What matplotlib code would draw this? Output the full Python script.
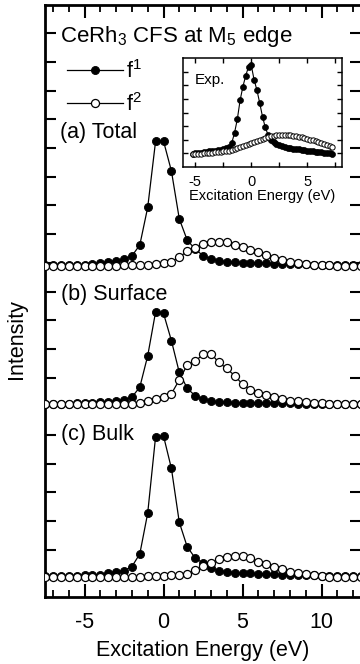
import numpy as np
import matplotlib.pyplot as plt

plt.rcParams['font.family'] = ['Liberation Sans', 'DejaVu Sans']
plt.rcParams['mathtext.fontset'] = 'custom'
plt.rcParams['mathtext.rm'] = 'Liberation Sans'
plt.rcParams['mathtext.it'] = 'Liberation Sans:italic'
plt.rcParams['mathtext.bf'] = 'Liberation Sans:bold'
plt.rcParams['axes.unicode_minus'] = False

# main panels: excitation energy grid (eV), 0.5 eV steps from -7.5 to 12.5
energy = np.arange(-7.5, 12.6, 0.5)

# intensities above each panel's baseline (arb. units)
total_f1 = [0.02, 0.02, 0.03, 0.03, 0.04, 0.05, 0.07, 0.10, 0.15, 0.18, 0.24,
            0.35, 0.73, 2.04, 4.35, 4.35, 3.31, 1.64, 0.90, 0.59, 0.36, 0.24,
            0.18, 0.15, 0.13, 0.12, 0.11, 0.10, 0.09, 0.08, 0.08, 0.07, 0.06,
            0.06, 0.05, 0.05, 0.05, 0.04, 0.04, 0.04, 0.04]
total_f2 = [0, 0, 0, 0, 0, 0, 0, 0, 0.01, 0.01, 0.02,
            0.02, 0.03, 0.05, 0.07, 0.10, 0.15, 0.31, 0.51, 0.61, 0.75, 0.82,
            0.82, 0.82, 0.73, 0.65, 0.56, 0.48, 0.38, 0.27, 0.21, 0.15, 0.09,
            0.06, 0.04, 0.03, 0.02, 0.01, 0.01, 0, 0]

surface_f1 = [0.01, 0.01, 0.02, 0.02, 0.03, 0.04, 0.05, 0.07, 0.09, 0.11, 0.16,
              0.25, 0.60, 1.69, 3.22, 3.17, 2.22, 1.11, 0.56, 0.30, 0.18, 0.12,
              0.08, 0.07, 0.06, 0.05, 0.05, 0.04, 0.04, 0.03, 0.03, 0.03, 0.02,
              0.02, 0.02, 0.02, 0.01, 0.01, 0.01, 0.01, 0.01]
surface_f2 = [0, 0, 0, 0, 0, 0, 0, 0, 0.01, 0.01, 0.02,
              0.02, 0.04, 0.10, 0.18, 0.26, 0.37, 0.85, 1.37, 1.50, 1.74, 1.77,
              1.46, 1.25, 1.00, 0.70, 0.51, 0.41, 0.33, 0.27, 0.19, 0.13, 0.10,
              0.07, 0.05, 0.03, 0.02, 0.01, 0.01, 0, 0]

bulk_f1 = [0.02, 0.02, 0.03, 0.03, 0.04, 0.05, 0.06, 0.07, 0.13, 0.18, 0.22,
           0.36, 0.80, 2.22, 4.89, 4.91, 3.78, 1.90, 1.05, 0.66, 0.48, 0.30,
           0.22, 0.18, 0.15, 0.13, 0.12, 0.11, 0.10, 0.09, 0.08, 0.07, 0.06,
           0.05, 0.05, 0.04, 0.04, 0.03, 0.03, 0.03, 0.03]
bulk_f2 = [0, 0, 0, 0, 0, 0, 0, 0, 0, 0.01, 0.01,
           0.01, 0.01, 0.02, 0.03, 0.04, 0.05, 0.06, 0.09, 0.24, 0.38, 0.48,
           0.61, 0.71, 0.73, 0.73, 0.65, 0.53, 0.45, 0.36, 0.27, 0.18, 0.13,
           0.09, 0.05, 0.02, 0.01, 0.01, 0, 0, 0]

# vertical offsets of the stacked spectra
offset_total = 9.89
offset_surface = 5.07
offset_bulk = -0.94

# inset: experiment, 0.25 eV steps from -5.25 to 7.25
exp_energy = np.arange(-5.25, 7.3, 0.25)
exp_f1 = [0.98, 1.00, 1.02, 1.04, 1.07, 1.10, 1.14, 1.17, 1.20, 1.24, 1.28,
          1.32, 1.38, 1.50, 1.75, 2.50, 3.50, 4.90, 5.90, 6.70, 7.35, 7.45,
          6.40, 5.65, 4.70, 3.70, 2.90, 2.35, 2.00, 1.80, 1.68, 1.58, 1.52,
          1.47, 1.43, 1.39, 1.35, 1.32, 1.29, 1.26, 1.23, 1.20, 1.17, 1.15,
          1.12, 1.10, 1.07, 1.05, 1.03, 1.01, 0.99]
exp_f2 = [0.95, 0.97, 0.98, 0.99, 1.00, 1.02, 1.03, 1.05, 1.07, 1.09, 1.11,
          1.14, 1.17, 1.21, 1.26, 1.32, 1.39, 1.46, 1.53, 1.61, 1.69, 1.77,
          1.85, 1.93, 2.01, 2.09, 2.16, 2.22, 2.27, 2.31, 2.34, 2.36, 2.37,
          2.37, 2.36, 2.34, 2.31, 2.27, 2.23, 2.18, 2.13, 2.07, 2.01, 1.95,
          1.88, 1.81, 1.74, 1.67, 1.60, 1.53, 1.46]

FS = 15.5

fig = plt.figure(figsize=(3.6, 6.64), dpi=100)
ax = fig.add_axes([45 / 360, 67 / 664, 316 / 360, 592 / 664])

filled = dict(color="black", lw=0.9, marker="o", ms=5.8, mfc="black",
              mec="black", mew=0.6)
hollow = dict(color="black", lw=0.9, marker="o", ms=5.8, mfc="white",
              mec="black", mew=0.9)

panels = [(total_f1, total_f2, offset_total),
          (surface_f1, surface_f2, offset_surface),
          (bulk_f1, bulk_f2, offset_bulk)]
handles = []
for f1, f2, off in panels:
    h1, = ax.plot(energy, np.array(f1) + off, zorder=2, **filled)
    h2, = ax.plot(energy, np.array(f2) + off, zorder=3, **hollow)
    if not handles:
        handles = [h1, h2]

ax.set_xlim(-7.5, 12.5)
ax.set_ylim(-1.64, 18.98)
ax.set_xticks([-5, 0, 5, 10])
ax.set_xticks(np.arange(-7, 13, 1), minor=True)
ax.set_yticks(np.arange(-1, 19, 1))
ax.set_yticklabels([])
ax.tick_params(axis="both", which="both", direction="in", top=True, right=True,
               labelsize=FS)
ax.tick_params(axis="x", which="major", length=9.5, width=1.5, pad=11)
ax.tick_params(axis="x", which="minor", length=4.8, width=1.3)
ax.tick_params(axis="y", which="major", length=8, width=1.5)
for s in ax.spines.values():
    s.set_linewidth(2)

ax.set_xlabel("Excitation Energy (eV)", fontsize=FS, labelpad=5)
ax.set_ylabel("Intensity", fontsize=FS)
ax.yaxis.set_label_coords(-0.057, 0.436)

ax.text(0.048, 0.938, "CeRh$_3$ CFS at M$_5$ edge", transform=ax.transAxes,
        fontsize=16, va="baseline")
ax.text(0.048, 0.775, "(a) Total", transform=ax.transAxes, fontsize=FS,
        va="baseline")
ax.text(0.05, 0.502, "(b) Surface", transform=ax.transAxes, fontsize=FS,
        va="baseline")
ax.text(0.05, 0.266, "(c) Bulk", transform=ax.transAxes, fontsize=FS,
        va="baseline")

ax.legend(handles, ["f$^1$", "f$^2$"], loc="upper left",
          bbox_to_anchor=(0.07, 0.907), frameon=False, fontsize=FS,
          handlelength=2.6, handletextpad=0.15, labelspacing=0.45,
          borderpad=0, borderaxespad=0, numpoints=1)

# inset with the experimental spectrum
ins = fig.add_axes([183 / 360, (664 - 167) / 664, 159 / 360, 109 / 664])
ins.plot(exp_energy, exp_f1, color="black", lw=0.8, marker="o", ms=4.3,
         mfc="black", mec="black", mew=0.5, zorder=2)
ins.plot(exp_energy, exp_f2, color="black", lw=0.6, marker="o", ms=3.8,
         mfc="white", mec="black", mew=0.7, zorder=3)
ins.set_xlim(-6.1, 8.1)
ins.set_ylim(0, 8.0)
ins.set_xticks([-5, -2.5, 0, 2.5, 5, 7.5])
ins.set_xticklabels(["-5", "", "0", "", "5", ""])
ins.set_yticks(np.arange(1, 8, 1))
ins.set_yticklabels([])
ins.tick_params(axis="both", direction="in", top=True, right=True, length=3.5,
                width=1, labelsize=10.5, pad=6)
for s in ins.spines.values():
    s.set_linewidth(1.1)
ins.set_xlabel("Excitation Energy (eV)", fontsize=10.5, labelpad=0)
ins.text(0.075, 0.76, "Exp.", transform=ins.transAxes, fontsize=11,
         va="baseline")

fig.savefig("out.png", dpi=100)
